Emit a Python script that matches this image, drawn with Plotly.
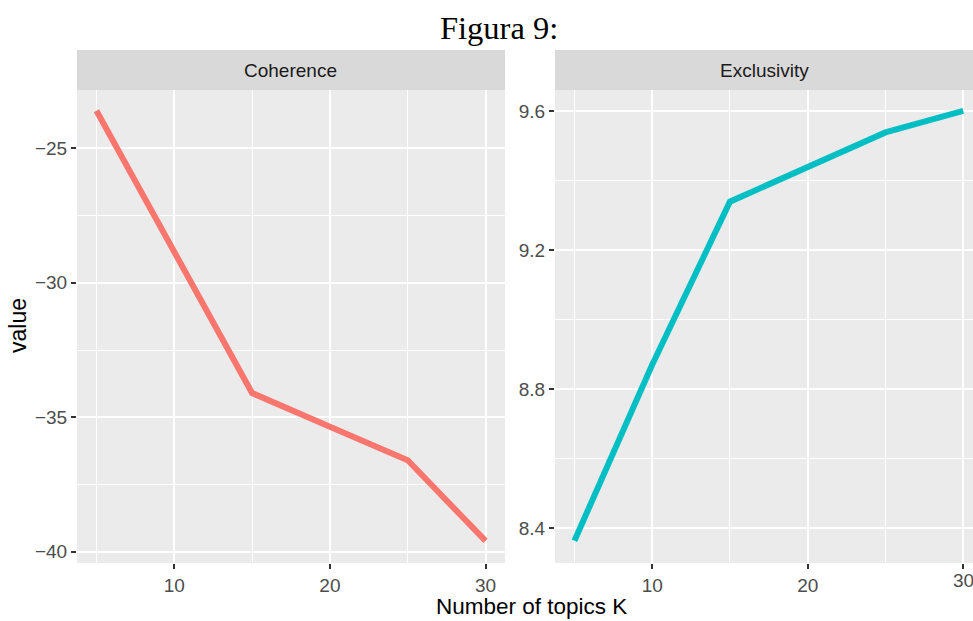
import plotly.graph_objects as go

# Data
k_values = [5, 10, 15, 20, 25, 30]
coherence = [-23.6, -28.88, -34.1, -35.35, -36.6, -39.6]
exclusivity = [8.364, 8.87, 9.339, 9.437, 9.538, 9.6]
panel_names = ["Coherence", "Exclusivity"]
colors = ["#F8766D", "#00BFC4"]
x_ticks = [10, 20, 30]

W, H = 973, 621
def px(x):
    return x / W
def py(y):
    return 1 - y / H

left_dom = [px(77), px(505)]
right_dom = [px(555), 1.0]
y_dom = [py(563), py(90)]

fig = go.Figure()
fig.add_trace(go.Scatter(x=k_values, y=coherence, mode="lines",
                         line=dict(color=colors[0], width=6), xaxis="x", yaxis="y",
                         showlegend=False, hoverinfo="x+y"))
fig.add_trace(go.Scatter(x=k_values, y=exclusivity, mode="lines",
                         line=dict(color=colors[1], width=6), xaxis="x2", yaxis="y2",
                         showlegend=False, hoverinfo="x+y"))

SANS = "Liberation Sans, Arial, sans-serif"
tickfont = dict(family=SANS, size=19, color="#4D4D4D")
common_x = dict(tick0=0, dtick=10, showgrid=True, gridcolor="white", gridwidth=2.2,
                zeroline=False, ticks="outside", ticklen=5, tickwidth=2, tickcolor="#333333",
                tickfont=tickfont, showline=False,
                minor=dict(dtick=5, showgrid=True, gridcolor="white", gridwidth=1.1))
common_y = dict(showgrid=True, gridcolor="white", gridwidth=2.2,
                zeroline=False, ticks="outside", ticklen=5, tickwidth=2, tickcolor="#333333",
                tickfont=tickfont, showline=False)

fig.update_layout(
    width=W, height=H,
    margin=dict(l=0, r=0, t=0, b=0),
    paper_bgcolor="white",
    plot_bgcolor="#EBEBEB",
    xaxis=dict(domain=left_dom, range=[3.75, 31.25], anchor="y", **common_x),
    xaxis2=dict(domain=right_dom, range=[3.75, 30.63], anchor="y2", **common_x),
    yaxis=dict(domain=y_dom, range=[-40.42, -22.83], anchor="x", tick0=0, dtick=5,
               minor=dict(dtick=2.5, showgrid=True, gridcolor="white", gridwidth=1.1),
               **common_y),
    yaxis2=dict(domain=y_dom, range=[8.300, 9.660], anchor="x2", tick0=8.4, dtick=0.4,
                tickformat=".1f",
                minor=dict(dtick=0.2, showgrid=True, gridcolor="white", gridwidth=1.1),
                **common_y),
    showlegend=False,
)

# the last tick label of the right panel is cut by the image edge; plotly hides it,
# so draw it as text anchored to the axis value
fig.add_annotation(x=x_ticks[-1], y=py(580), xref="x2", yref="paper", text=str(x_ticks[-1]),
                   showarrow=False, xanchor="center", yanchor="middle", font=tickfont)

# strips
for dom, name in zip([left_dom, right_dom], panel_names):
    fig.add_shape(type="rect", xref="paper", yref="paper",
                  x0=dom[0], x1=dom[1], y0=py(90), y1=py(50),
                  fillcolor="#D9D9D9", line=dict(width=0), layer="below")
    fig.add_annotation(x=(dom[0] + dom[1]) / 2, y=py(70), xref="paper", yref="paper",
                       text=name, showarrow=False, xanchor="center", yanchor="middle",
                       font=dict(family=SANS, size=19, color="#1A1A1A"))

# title
fig.add_annotation(x=px(499), y=py(28), xref="paper", yref="paper", text="Figura 9:",
                   showarrow=False, xanchor="center", yanchor="middle",
                   font=dict(family="Liberation Serif, Times New Roman, serif", size=32.5, color="black"))
# axis titles
fig.add_annotation(x=px(531), y=0, xref="paper", yref="paper", text="Number of topics K",
                   showarrow=False, xanchor="center", yanchor="bottom",
                   font=dict(family=SANS, size=22.5, color="black"))
fig.add_annotation(x=px(18), y=py(326), xref="paper", yref="paper", text="value",
                   showarrow=False, xanchor="center", yanchor="middle", textangle=-90,
                   font=dict(family=SANS, size=23, color="black"))

fig.write_html("out.html")
